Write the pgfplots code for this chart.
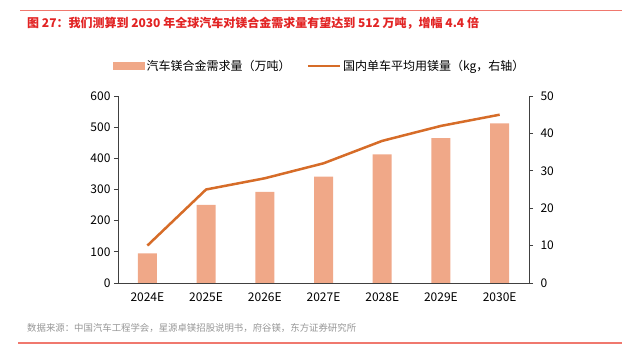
\documentclass[border=0pt]{standalone}
\usepackage{fontspec}
\setmainfont{Noto Sans CJK SC}
\usepackage{pgfplots}
\pgfplotsset{compat=1.18}
\definecolor{barc}{RGB}{240,168,136}
\definecolor{linec}{RGB}{214,108,40}
\definecolor{titlec}{RGB}{226,36,36}
\definecolor{rulec}{RGB}{240,120,110}
\definecolor{axc}{RGB}{64,64,64}
\definecolor{srcc}{RGB}{150,150,150}
\begin{document}
\begin{tikzpicture}[x=1pt,y=1pt]
\useasboundingbox (0,0) rectangle (622,363);
\draw[rulec, line width=1pt] (20,352) -- (622,352);
\draw[rulec, line width=1.5pt] (18,20) -- (622,20);
\node[anchor=west, inner sep=0pt, text=titlec, font=\fontsize{12}{14}\selectfont\bfseries] at (27,340) {图 27：我们测算到 2030 年全球汽车对镁合金需求量有望达到 512 万吨，增幅 4.4 倍};
\node[anchor=west, inner sep=0pt, text=srcc, font=\fontsize{9.4}{11}\selectfont] at (27,35) {数据来源：中国汽车工程学会，星源卓镁招股说明书，府谷镁，东方证券研究所};
\begin{axis}[
  at={(118pt,80pt)}, anchor=south west, scale only axis,
  width=411pt, height=187pt,
  xmin=-0.5, xmax=6.5, ymin=0, ymax=600,
  axis x line*=bottom, axis y line*=left,
  axis line style={axc, line width=0.8pt},
  xtick=data, xticklabels={2024E,2025E,2026E,2027E,2028E,2029E,2030E},
  x tick style={draw=none},
  ytick={0,100,...,600},
  y tick style={axc, line width=0.8pt},
  tick align=outside, major tick length=4pt,
  tick label style={font=\fontsize{12}{14}\selectfont, text=black},
  /pgf/number format/assume math mode=true,
  xticklabel style={yshift=-2pt},
  legend style={at={(0.49,1.16)}, anchor=center, draw=none, fill=none,
    font=\fontsize{12}{14}\selectfont, legend columns=2,
    /tikz/every even column/.append style={column sep=14pt}},
  legend cell align=left,
]
\addplot[draw=none, fill=barc, ybar, bar width=19pt,
  legend image code/.code={\fill[barc] (0pt,-4pt) rectangle (32pt,4pt);}]
  coordinates {(0,95) (1,251) (2,292) (3,341) (4,413) (5,465) (6,512)};
\addlegendentry{汽车镁合金需求量（万吨）}
\addlegendimage{legend image code/.code={\draw[linec, line width=2.5pt] (0pt,0pt) -- (32pt,0pt);}}
\addlegendentry{国内单车平均用镁量（kg，右轴）}
\end{axis}
\begin{axis}[
  at={(118pt,80pt)}, anchor=south west, scale only axis,
  width=411pt, height=187pt,
  xmin=-0.5, xmax=6.5, ymin=0, ymax=50,
  axis x line=none, axis y line*=right,
  axis line style={axc, line width=0.8pt},
  ytick={0,10,...,50},
  y tick style={axc, line width=0.8pt},
  tick align=outside, major tick length=4pt,
  tick label style={font=\fontsize{12}{14}\selectfont, text=black},
  /pgf/number format/assume math mode=true,
  yticklabel style={xshift=4pt},
]
\addplot[linec, line width=2.5pt, mark=none]
  coordinates {(0,10) (1,25) (2,28) (3,32) (4,38) (5,42) (6,45)};
\end{axis}
\end{tikzpicture}
\end{document}
